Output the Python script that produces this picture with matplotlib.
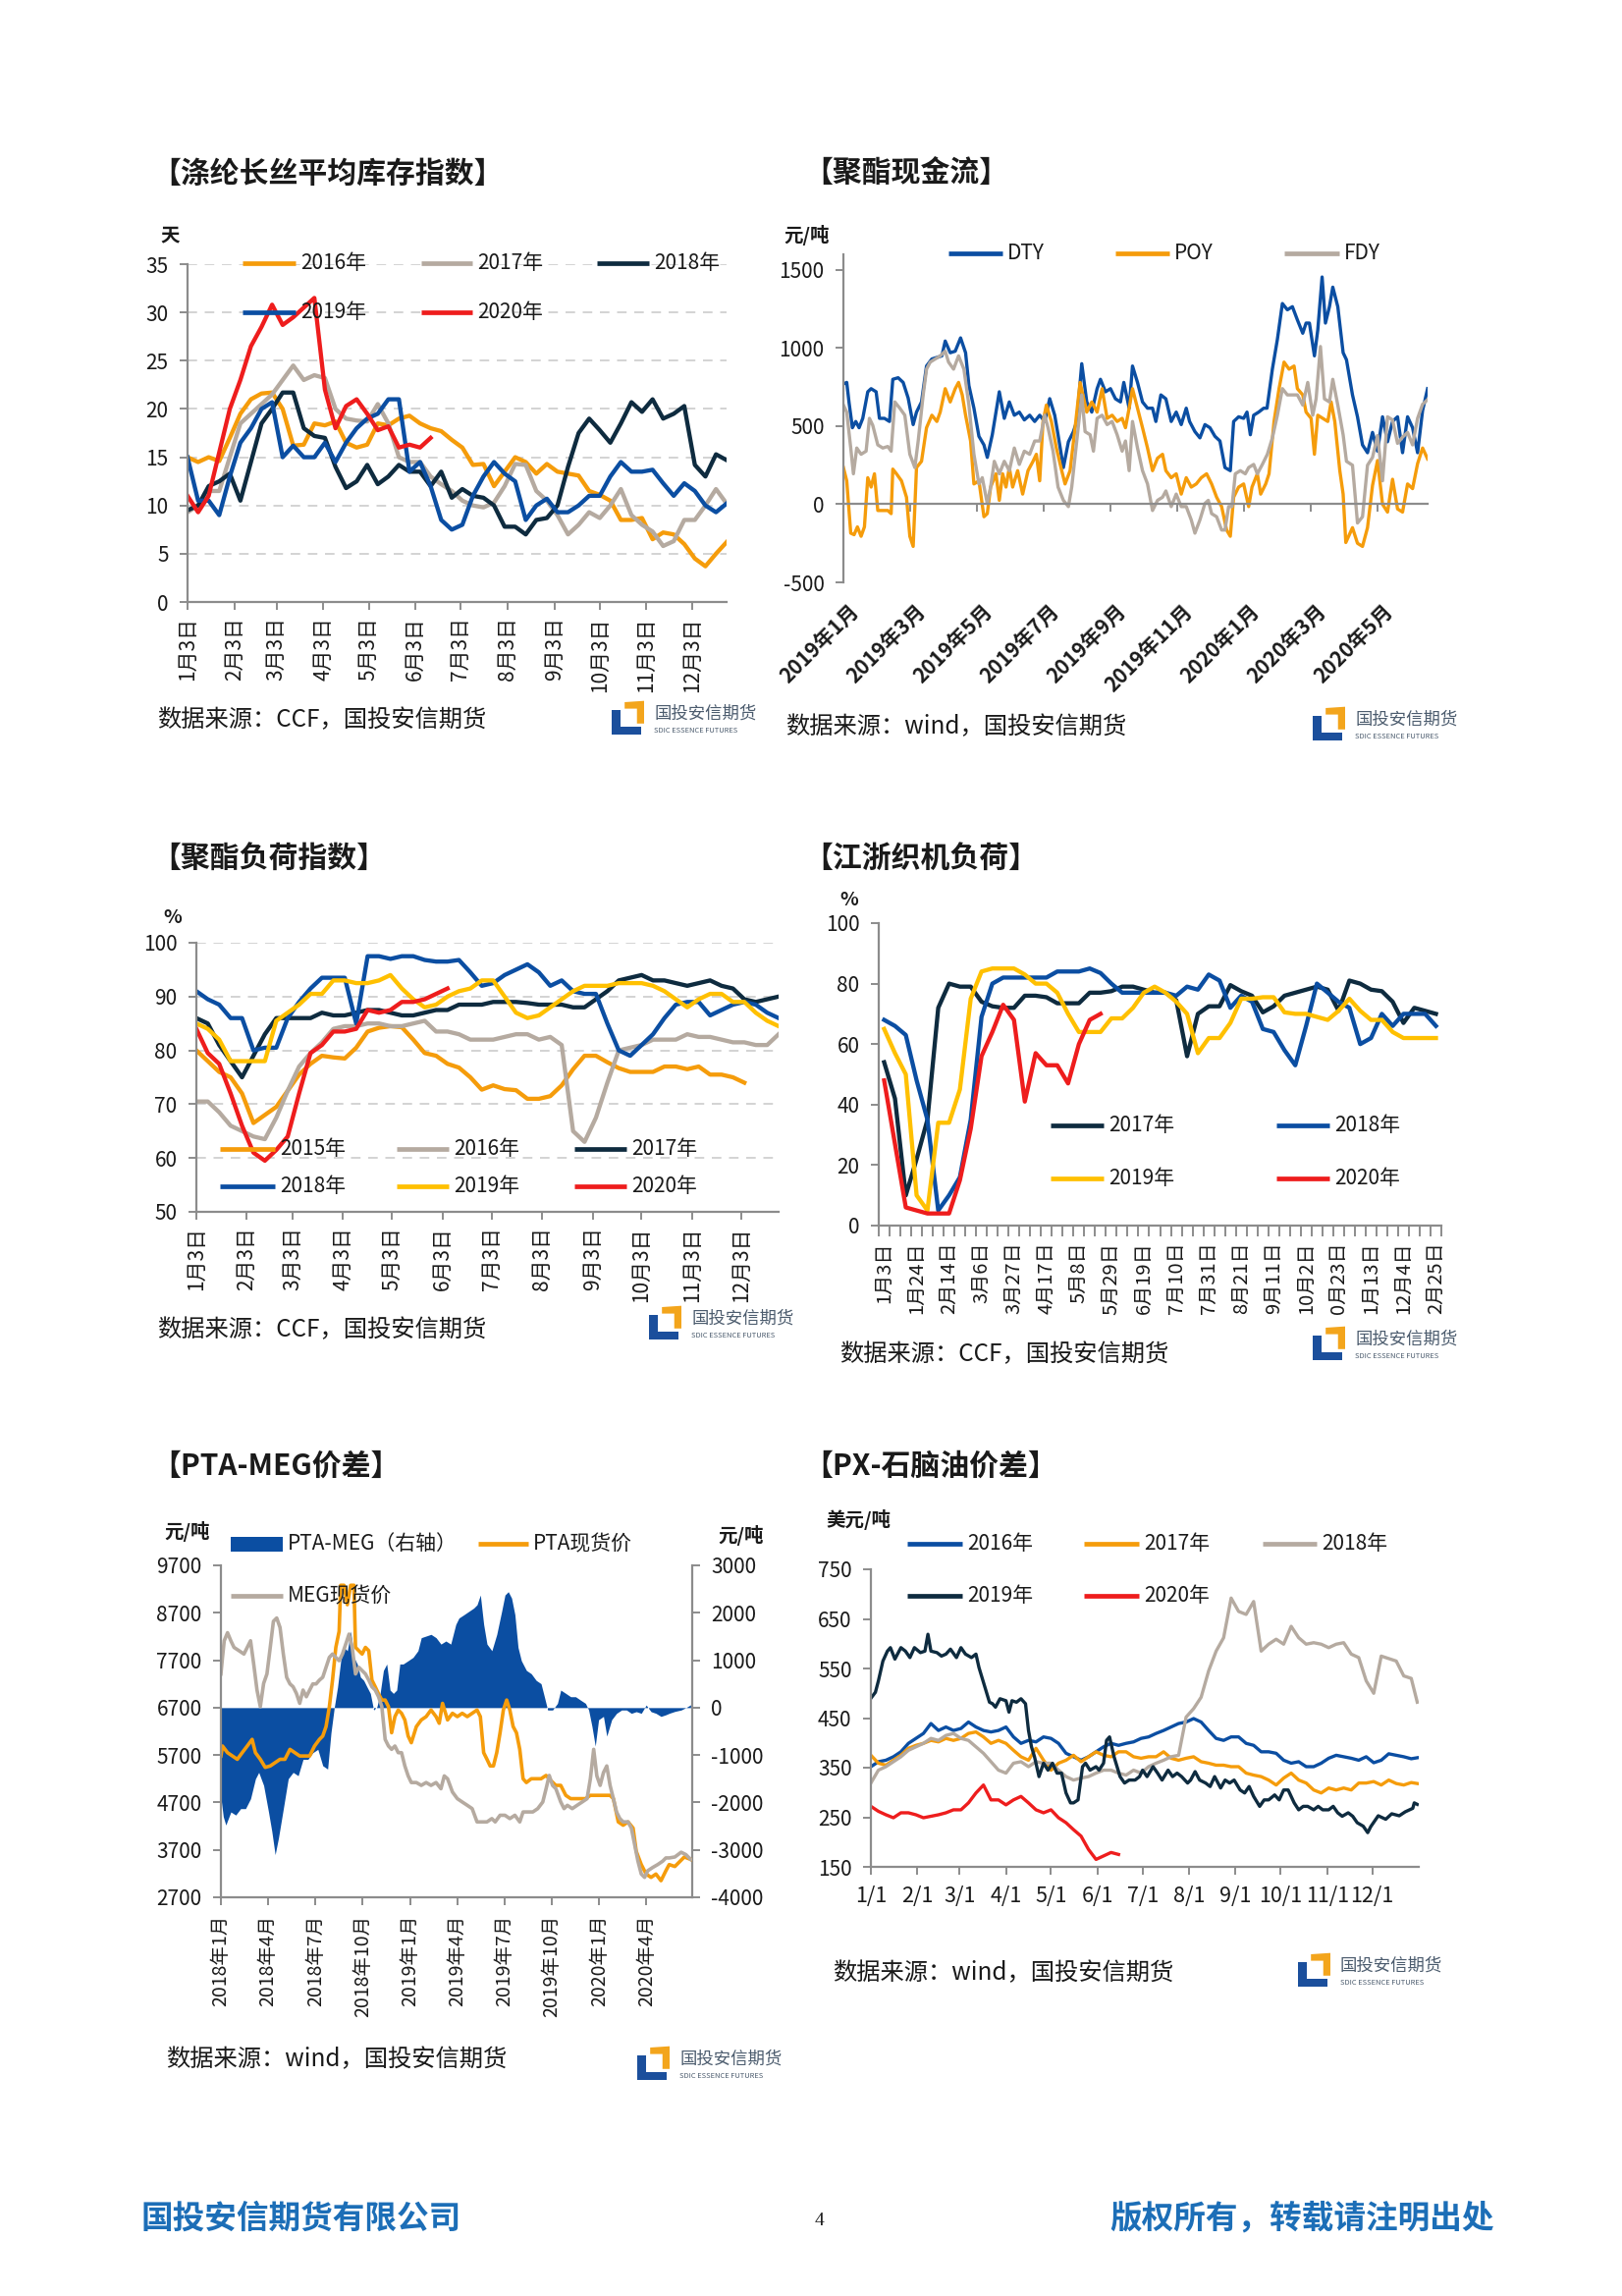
import datetime as dt
import numpy as np
import matplotlib
matplotlib.use('Agg')
import matplotlib.pyplot as plt
from matplotlib.lines import Line2D
from matplotlib.patches import Polygon, Rectangle
from matplotlib.transforms import blended_transform_factory

plt.rcParams['font.family'] = ['Noto Sans CJK SC', 'DejaVu Sans']
plt.rcParams['axes.unicode_minus'] = False

ORANGE = '#F59C0B'
GRAY = '#B5AAA0'
NAVY = '#0E2B3F'
BLUE = '#0B4EA2'
RED = '#EE1D1D'
YELLOW = '#FFC000'
AXC = '#8C8C8C'
TXT = '#1A1A1A'

# ---------------- chart 1: 涤纶长丝平均库存指数 (weekly, days) ----------------
inv_tick_labels = ['%d月3日' % m for m in range(1, 13)]
inv_2016 = [15, 14.5, 15, 14.6, 17, 19.5, 21, 21.6, 21.7, 20, 16.2, 16.3, 18.5, 18.3, 18.7, 16.5, 16, 16.3,
            18.5, 18.3, 19.0, 19.3, 18.5, 18, 17.7, 16.8, 16, 14.2, 14.3, 12, 13.5, 15, 14.5, 13.3, 14.3, 13.5,
            13.3, 13.1, 11.5, 11.1, 10.5, 8.5, 8.5, 8.7, 6.5, 7.2, 7, 6, 4.5, 3.7, 5, 6.2]
inv_2017 = [9.3, 10, 11.5, 11.5, 15, 18.5, 19.5, 20.5, 21.5, 23, 24.5, 23, 23.5, 23.2, 20, 19, 18.8, 18.7,
            20.5, 18.5, 15, 14.5, 14.5, 13, 12.2, 11.5, 10.5, 10, 9.8, 10.3, 12, 14.3, 14.2, 11.5, 10.5, 9,
            7, 8, 9.3, 8.7, 10, 11.7, 9, 8, 7.3, 5.8, 6.3, 8.5, 8.5, 10, 11.7, 10.2]
inv_2018 = [9.5, 10, 12, 12.5, 13.3, 10.5, 14.5, 18.5, 20, 21.7, 21.7, 18, 17.2, 17, 14, 11.8, 12.5, 14.2,
            12.2, 13, 14.2, 13.5, 13.5, 12, 13.5, 10.8, 11.7, 11, 10.8, 10, 7.8, 7.8, 7, 8.5, 8.7, 10, 14,
            17.5, 19, 17.8, 16.5, 18.5, 20.7, 19.7, 21, 19, 19.5, 20.3, 14.2, 13, 15.3, 14.7]
inv_2019 = [15, 10.5, 10.5, 9, 13, 16.5, 18, 20, 20.7, 15, 16.2, 15, 15, 16.5, 14.5, 16.5, 18, 19, 19.5,
            21, 21, 13.5, 14.5, 12, 8.5, 7.5, 8, 11, 13, 14.5, 13.3, 12.5, 8.5, 10, 10.7, 9.3, 9.3, 10, 11,
            11, 13, 14.5, 13.5, 13.5, 13.7, 12.3, 11, 12.3, 11.5, 10, 9.3, 10.2]
inv_2020 = [11, 9.3, 11, 15.5, 20, 23, 26.5, 28.5, 30.8, 28.7, 29.5, 30.5, 31.5, 22, 18, 20.3, 21, 19.5,
            17.8, 18.2, 16, 16.3, 16, 17]

# ---------------- chart 2: 聚酯现金流 (元/吨, months since 2019-01) ----------------
cf_tick_labels = ['2019年1月', '2019年3月', '2019年5月', '2019年7月', '2019年9月', '2019年11月',
                  '2020年1月', '2020年3月', '2020年5月']
dty_m = [0, 0.10, 0.17, 0.27, 0.37, 0.47, 0.58, 0.73, 0.83, 0.98, 1.08, 1.23, 1.38, 1.48, 1.64, 1.79, 1.94,
         2.09, 2.19, 2.34, 2.49, 2.65, 2.80, 2.95, 3.05, 3.20, 3.35, 3.51, 3.66, 3.76, 3.91, 4.06, 4.21, 4.31,
         4.46, 4.67, 4.82, 4.97, 5.12, 5.27, 5.42, 5.58, 5.73, 5.88, 6.03, 6.18, 6.33, 6.43, 6.59, 6.74, 6.89,
         6.99, 7.14, 7.29, 7.44, 7.60, 7.70, 7.85, 8.00, 8.15, 8.30, 8.40, 8.56, 8.66, 8.81, 8.96, 9.11, 9.26,
         9.36, 9.51, 9.66, 9.82, 9.97, 10.12, 10.27, 10.37, 10.53, 10.68, 10.83, 10.98, 11.13, 11.28, 11.43,
         11.59, 11.69, 11.84, 11.99, 12.09, 12.19, 12.29, 12.44, 12.59, 12.69, 12.85, 13.00, 13.15, 13.30,
         13.45, 13.60, 13.76, 13.86, 13.96, 14.11, 14.21, 14.34, 14.44, 14.56, 14.66, 14.81, 14.97, 15.07,
         15.25, 15.40, 15.55, 15.70, 15.85, 16.00, 16.15, 16.30, 16.45, 16.60, 16.75, 16.90, 17.05, 17.20,
         17.35, 17.50]
dty_v = [770, 780, 650, 490, 530, 490, 550, 720, 740, 720, 550, 550, 530, 800, 810, 780, 680, 510, 590, 655,
         885, 930, 940, 950, 1045, 970, 980, 1065, 970, 760, 615, 435, 380, 300, 445, 720, 550, 655, 570, 590,
         540, 570, 530, 570, 530, 676, 570, 445, 235, 400, 465, 530, 900, 655, 590, 740, 800, 720, 740, 675,
         655, 780, 615, 885, 780, 655, 615, 615, 530, 700, 675, 530, 590, 510, 615, 530, 465, 425, 510, 490,
         435, 405, 235, 215, 530, 560, 550, 590, 445, 570, 590, 615, 615, 865, 1055, 1285, 1245, 1265, 1180,
         1095, 1160, 1160, 950, 1115, 1455, 1160, 1265, 1390, 1265, 970, 925, 700, 560, 380, 330, 460, 340,
         560, 400, 530, 560, 330, 560, 490, 330, 600, 740]
poy_m = [0, 0.10, 0.22, 0.32, 0.42, 0.53, 0.63, 0.73, 0.83, 0.93, 1.03, 1.18, 1.33, 1.43, 1.48, 1.59, 1.74,
         1.89, 1.99, 2.09, 2.19, 2.34, 2.49, 2.65, 2.80, 2.90, 3.05, 3.20, 3.35, 3.45, 3.56, 3.66, 3.81, 3.91,
         4.06, 4.21, 4.31, 4.41, 4.57, 4.67, 4.77, 4.87, 4.97, 5.07, 5.22, 5.37, 5.53, 5.68, 5.78, 5.88, 5.98,
         6.08, 6.23, 6.38, 6.54, 6.64, 6.79, 6.94, 7.09,
         7.29, 7.44, 7.60, 7.75, 7.90, 8.05, 8.20, 8.35, 8.45, 8.56, 8.66, 8.81, 8.96, 9.11, 9.26, 9.41, 9.56,
         9.66, 9.82, 9.97, 10.12, 10.27, 10.42, 10.57, 10.72, 10.88, 11.03, 11.18, 11.33, 11.48, 11.59, 11.69,
         11.84, 11.99, 12.14, 12.24, 12.40, 12.50, 12.65, 12.75, 12.90, 13.05, 13.20, 13.35, 13.50, 13.60,
         13.76, 13.86, 14.01, 14.11, 14.21, 14.36, 14.51, 14.61, 14.72, 14.87, 14.97, 15.05,
         15.25, 15.40, 15.55, 15.70, 15.85, 16.00, 16.15, 16.30, 16.45, 16.60, 16.75, 16.90, 17.05, 17.20,
         17.35, 17.50]
poy_v = [235, 150, -185, -195, -145, -205, -145, 170, 110, 195, -40, -40, -40, -60, 225, 195, 150, 45, -205,
         -270, 235, 275, 490, 570, 530, 590, 740, 655, 740, 780, 700, 570, 405, 130, 150, -80, -60, 110, 195,
         25, 195, 110, 235, 110, 215, 65, 215, 275, 320, 150, 530, 635, 530, 360, 215, 130, 215, 490, 780,
         590, 655, 590, 740, 550, 570, 530, 550, 490, 615, 740, 615, 490, 360, 215, 295, 320, 215, 170, 195,
         65, 170, 110, 130, 170, 195, 130, 45, -15, -165, -205, 45, 110, 130, -15, 110, 195, 65, 130, 195,
         530, 740, 910, 865, 885, 740, 700, 590, 550, 320, 570, 550, 530, 655, 530, 215, 65, -245,
         -150, -250, -270, -150, 120, 280, 0, -50, 160, -30, -50, 130, 100, 260, 360, 290]
fdy_m = [0, 0.10, 0.22, 0.30, 0.40, 0.53, 0.68, 0.78, 0.88, 1.03, 1.18, 1.33, 1.43, 1.54, 1.69, 1.84, 1.99,
         2.14, 2.24, 2.39, 2.49, 2.60, 2.75, 2.90, 3.05, 3.15, 3.30, 3.45, 3.61, 3.76, 3.91, 4.06, 4.16, 4.31,
         4.41, 4.52, 4.67, 4.82, 4.97, 5.12, 5.27, 5.42, 5.58, 5.73, 5.88, 6.03, 6.13, 6.28, 6.43, 6.59, 6.74,
         6.84, 6.99, 7.14,
         7.24, 7.39, 7.49, 7.60, 7.75, 7.90, 8.05, 8.20, 8.35, 8.45, 8.56, 8.66, 8.81, 8.96, 9.11, 9.26, 9.41,
         9.56, 9.66, 9.82, 9.97, 10.12, 10.27, 10.42, 10.53, 10.68, 10.83, 10.93, 11.03, 11.18, 11.33, 11.43,
         11.54, 11.64, 11.74, 11.89, 12.04, 12.14, 12.29, 12.40, 12.55, 12.70, 12.85, 13.00, 13.15, 13.30,
         13.45, 13.60, 13.76, 13.91, 14.06, 14.16, 14.29, 14.41, 14.56, 14.66, 14.81, 14.97, 15.07,
         15.25, 15.40, 15.55, 15.70, 15.85, 16.00, 16.15, 16.30, 16.45, 16.60, 16.75, 16.90, 17.05, 17.20,
         17.35, 17.50]
fdy_v = [635, 590, 360, 195, 360, 320, 340, 550, 505, 380, 360, 370, 340, 655, 615, 570, 320, 235, 405, 700,
         865, 910, 930, 950, 980, 910, 865, 950, 865, 635, 320, 130, 170, 5, 110, 275, 195, 275, 215, 360,
         255, 340, 320, 405, 405, 570, 490, 340, 110, 25, -15, 110, 405, 700,
         465, 445, 340, 550, 570, 510, 530, 445, 340, 405, 215, 530, 360, 215, 130, -40, 25, 45, 85, -15,
         65, -15, -15, -100, -185, -100, 5, 25, -60, -80, -165, -165, -15, -15, 195, 215, 195, 235, 255, 195,
         255, 320, 425, 570, 740, 700, 700, 700, 635, 780, 570, 675, 1010, 675, 655, 800, 635, 445, 275,
         250, -120, -80, 250, 300, 440, 150, 560, 540, 390, 430, 460, 380, 550, 640, 670]

# ---------------- chart 3: 聚酯负荷指数 (weekly, %) ----------------
load_2015 = [80, 78, 76, 75, 72, 66.5, 68, 69.5, 72.5, 75.5, 77.5, 79, 78.7, 78.5, 80.5, 83.5, 84.2, 84.5,
             84.3, 82, 79.5, 79, 77.5, 76.8, 75, 72.7, 73.5, 72.8, 72.6, 71, 71, 71.5, 73.5, 76.5, 79, 79,
             77.8, 76.7, 76, 76, 76, 77, 77, 76.5, 77, 75.5, 75.5, 75, 74]
load_2016 = [70.5, 70.5, 68.5, 66, 65, 64, 63.5, 67.5, 72.5, 77, 79.5, 81.5, 84, 84.5, 84.5, 85, 85, 84.5,
             84.5, 85, 85.5, 83.5, 83.5, 83, 82, 82, 82, 82.5, 83, 83, 82, 82.5, 81, 65, 63, 67.5, 74, 80,
             80.5, 81, 82, 82, 82, 83, 82.5, 82.5, 82, 81.5, 81.5, 81, 81, 83]
load_2017 = [86, 85, 81, 78, 75, 79, 83, 86, 86, 86, 86, 87, 86.5, 86.5, 87, 87.5, 87.5, 87, 86.5, 86.5, 87,
             87.5, 87.5, 88.5, 88.5, 88.5, 89, 89, 89, 88.8, 88.5, 88.5, 88.5, 88, 88, 89.5, 91, 93, 93.5, 94,
             93, 93, 92.5, 92, 92.5, 93, 92, 91.5, 89.5, 89, 89.5, 90]
load_2018 = [91, 89.5, 88.5, 86, 86, 80, 80.5, 80.5, 86, 89, 91.5, 93.5, 93.5, 93.5, 85, 97.5, 97.5, 97, 97.5,
             97.5, 96.8, 96.5, 96.5, 96.8, 94.5, 92, 92.5, 94, 95, 96, 94.5, 92, 93, 91, 90.5, 90.5, 85, 80,
             79, 81, 83, 86, 88.5, 89, 89, 86.5, 87.5, 88.5, 89, 88.5, 87, 86]
load_2019 = [85, 84, 82, 78, 78, 78, 78, 85.5, 87, 88.5, 90.5, 90.5, 93, 93, 92.5, 92.5, 93, 94, 91.5, 89.5,
             88, 88.5, 90, 91, 91.5, 93, 93, 90, 87, 86, 86.5, 88, 89.5, 91, 92, 92, 92, 92.5, 92.5, 92.5, 92,
             91, 89.5, 88, 89.5, 90.5, 90.5, 89, 89, 87, 85.5, 84.5]
load_2020 = [84, 79.5, 77.5, 72, 66, 61, 59.5, 61.5, 64, 72, 79.5, 81, 83.5, 83.5, 84, 87.5, 87, 87.5, 89,
             89, 89.5, 90.5, 91.5]

# ---------------- chart 4: 江浙织机负荷 (weekly categories, %) ----------------
loom_labels = ['1月3日', '1月24日', '2月14日', '3月6日', '3月27日', '4月17日', '5月8日', '5月29日',
               '6月19日', '7月10日', '7月31日', '8月21日', '9月11日', '10月2日', '0月23日', '1月13日',
               '12月4日', '2月25日']
loom_2017 = [54, 42, 10, 22, 35, 72, 80, 79, 79, 74, 72.5, 72, 72, 76, 76, 75.5, 73.5, 73.5, 73.5, 77, 77,
             77.5, 79, 79, 78, 77, 77, 74.5, 56, 70, 72.5, 72.5, 79.5, 77.5, 76, 70.5, 72.5, 76, 77, 78, 79,
             78, 71, 81, 80, 78, 77.5, 74, 67, 72, 71, 70]
loom_2018 = [68, 66, 63, 48, 35, 5, 10, 16, 35, 69, 80, 82, 82, 82, 82, 82, 84, 84, 84, 85, 83.5, 80, 77, 77,
             77, 77, 77, 76, 79, 78, 83, 81, 72, 76, 74, 65, 64, 58, 53, 66, 80, 77, 74, 72, 60, 62, 70, 66,
             70, 70, 70, 66]
loom_2019 = [65, 57, 50, 10, 5, 34, 34, 45, 75, 84, 85, 85, 85, 83, 80, 80, 77, 70, 64, 64, 64, 68.5, 68.5,
             72, 77, 79, 77, 74, 70, 57, 62, 62, 67, 75, 75, 75.5, 75.5, 70.5, 70, 70, 69, 68, 71, 75, 71, 68,
             68, 64, 62, 62, 62, 62]
loom_2020 = [48, 27, 6, 5, 4, 4, 4, 15, 32, 56, 64, 73, 68, 41, 57, 53, 53, 47, 60, 68, 70]

# ---------------- chart 5: PTA-MEG价差 (months since 2018-01) ----------------
pm_tick_labels = ['2018年1月', '2018年4月', '2018年7月', '2018年10月', '2019年1月', '2019年4月',
                  '2019年7月', '2019年10月', '2020年1月', '2020年4月']
spread_m = [0, 0.15, 0.31, 0.63, 0.94, 1.25, 1.56, 1.88, 2.19, 2.40, 2.71, 3.02, 3.23, 3.44, 3.65, 3.96,
            4.27, 4.58, 4.90, 5.21, 5.52, 5.83, 6.15, 6.46, 6.77, 6.98, 7.19, 7.40, 7.60, 7.81, 8.02, 8.23,
            8.44, 8.65, 8.85, 9.06, 9.27, 9.48, 9.69, 9.90, 10.10, 10.31, 10.52, 10.73, 10.94, 11.15, 11.35,
            11.56, 11.88, 12.19, 12.50, 12.71, 13.02, 13.33, 13.65, 13.96, 14.27, 14.58, 14.90, 15.10, 15.42,
            15.73, 16.04, 16.25, 16.46, 16.67, 16.88, 17.19, 17.50, 17.81, 18.02, 18.23, 18.44, 18.65, 18.85,
            19.06, 19.38, 19.69, 20.00, 20.31, 20.52, 20.73, 21.04, 21.35, 21.56, 21.88, 22.19, 22.50, 22.81,
            23.13, 23.33, 23.54, 23.75, 23.96, 24.27, 24.48, 24.79, 25.10, 25.42, 25.73, 26.04, 26.35, 26.67,
            26.98, 27.29, 27.60, 27.92, 28.23, 28.44, 28.8, 29.2, 29.5, 29.8]
spread_v = [-1900, -2300, -2475, -2200, -2265, -2130, -2130, -1920, -1500, -1365, -1640, -2200, -2610, -3100,
            -2750, -2130, -1500, -1365, -1435, -1090, -1090, -950, -880, -1225, -1295, -535, 0, 435, 990,
            1270, 1200, 1615, 1060, 920, 645, 575, 435, 300, -50, 20, 300, 785, 920, 370, 300, 370, 920, 920,
            990, 1060, 1200, 1475, 1510, 1545, 1475, 1340, 1405, 1340, 1755, 1890, 1960, 2030, 2100, 2170,
            2375, 1755, 1340, 1200, 1545, 2030, 2375, 2445, 2310, 1960, 1270, 990, 785, 715, 575, 505, 230,
            -50, -50, 90, 370, 300, 230, 230, 160, 90, -50, -395, -810, -255, -185, -600, -255, -120, -50,
            -50, -120, -85, -120, 55, -85, -120, -185, -150, -120, -80, -50, 0, 60]
pta_m = [0, 0.10, 0.42, 0.73, 1.04, 1.35, 1.67, 1.98, 2.19, 2.50, 2.81, 3.13, 3.44, 3.75, 4.06, 4.38, 4.69,
         5.00, 5.31, 5.63, 5.94, 6.25, 6.46, 6.67, 6.88, 7.08, 7.29, 7.50, 7.60, 7.81, 8.02, 8.23, 8.44, 8.54,
         8.75, 8.96, 9.17, 9.38, 9.58, 9.79, 10.00, 10.21, 10.42, 10.63, 10.83, 11.04, 11.25, 11.46, 11.67,
         11.88, 12.08, 12.40, 12.71, 13.02, 13.33, 13.65, 13.85, 14.06, 14.38, 14.69, 15.00, 15.31, 15.63,
         15.94, 16.25, 16.46, 16.67, 16.88, 17.08, 17.29, 17.50, 17.71, 17.92, 18.13, 18.33, 18.54, 18.75,
         18.96, 19.17, 19.38, 19.69, 20.00, 20.31, 20.63, 20.94, 21.25, 21.56, 21.88, 22.19, 22.50, 22.81,
         23.13, 23.44, 23.75, 24.06, 24.38, 24.69, 24.90, 25.21, 25.52, 25.83, 26.15, 26.35, 26.67, 26.98,
         27.29, 27.60, 27.92, 28.23, 28.44, 28.8, 29.1, 29.4, 29.8]
pta_v = [5680, 5890, 5750, 5680, 5610, 5750, 5890, 6030, 5750, 5610, 5440, 5470, 5540, 5610, 5610, 5820, 5750,
         5680, 5680, 5680, 5890, 6030, 6100, 6300, 6720, 7280, 7970, 8310, 9280, 9280, 8870, 9280, 9280, 7970,
         7900, 7830, 7970, 7900, 7280, 7140, 6990, 6860, 6860, 6720, 6170, 6510, 6650, 6580, 6440, 6100, 5960,
         6300, 6440, 6510, 6650, 6510, 6370, 6790, 6440, 6580, 6510, 6580, 6510, 6580, 6650, 6510, 5750, 5610,
         5470, 5470, 5750, 6170, 6650, 6860, 6650, 6300, 6170, 5820, 5200, 5120, 5200, 5200, 5200, 5270, 5160,
         5060, 5060, 4850, 4780, 4780, 4780, 4780, 4850, 4850, 4850, 4850, 4850, 4780, 4290, 4220, 4290, 4160,
         3670, 3390, 3190, 3120, 3190, 3050, 3260, 3390, 3350, 3450, 3550, 3500]
meg_m = [0.0, 0.10, 0.21, 0.42, 0.63, 0.83, 1.15, 1.46, 1.67, 1.88, 2.08, 2.29, 2.50, 2.71, 2.92, 3.13, 3.33,
         3.54, 3.75, 3.96, 4.17, 4.38, 4.58, 4.79, 5.00, 5.21, 5.42, 5.63, 5.83, 6.04, 6.25, 6.46, 6.67, 6.88,
         7.08, 7.29, 7.50, 7.71, 7.92, 8.13, 8.33, 8.54, 8.75, 8.96, 9.17, 9.38, 9.58, 9.79, 10.00, 10.21,
         10.42, 10.63, 10.83, 11.04, 11.25, 11.46, 11.67, 11.88, 12.08, 12.40, 12.71, 13.02, 13.33, 13.65,
         13.96, 14.17, 14.38, 14.69, 15.00, 15.31, 15.63, 15.94, 16.25, 16.56, 16.88, 17.19, 17.40, 17.71,
         18.02, 18.33, 18.65, 18.96, 19.17, 19.48, 19.79, 20.10, 20.42, 20.63, 20.83, 21.04, 21.25, 21.56,
         21.77, 21.98, 22.29, 22.60, 22.92, 23.23, 23.44, 23.65, 23.85, 24.06, 24.27, 24.48, 24.69, 24.90,
         25.10, 25.31, 25.52, 25.83, 26.04, 26.25, 26.46, 26.67, 26.88, 27.08, 27.40, 27.71, 28.02, 28.23,
         28.44, 28.8, 29.2, 29.5, 29.8]
meg_v = [7410, 7760, 8110, 8280, 8110, 7970, 7900, 7830, 7970, 8110, 7620, 7070, 6720, 7210, 7410, 7970, 8520,
         8590, 8390, 7830, 7340, 7200, 7140, 7000, 6790, 7070, 6930, 7070, 7200, 7200, 7280, 7340, 7550, 7760,
         7830, 7760, 7690, 7830, 8040, 8250, 7970, 7410, 7550, 7480, 7410, 7280, 7140, 7070, 6930, 6720, 6030,
         5890, 5820, 5890, 5750, 5750, 5470, 5260, 5120, 5120, 5060, 5120, 5060, 5120, 4990, 5260, 5200, 4920,
         4780, 4710, 4640, 4570, 4290, 4290, 4290, 4360, 4290, 4430, 4430, 4360, 4430, 4290, 4500, 4500, 4500,
         4570, 4710, 4990, 5270, 5060, 4990, 4710, 4570, 4640, 4570, 4640, 4710, 4780, 5200, 5820, 5260, 5060,
         5330, 5470, 5060, 4780, 4500, 4360, 4290, 4290, 4160, 3810, 3460, 3190, 3120, 3260, 3330, 3390, 3460,
         3530, 3530, 3550, 3650, 3600, 3500]

# ---------------- chart 6: PX-石脑油价差 (美元/吨, day of year) ----------------
px_days = list(range(0, 365, 5)) + [364]
px_2016 = [352, 362, 365, 372, 382, 399, 409, 419, 439, 425, 432, 425, 429, 442, 432, 425, 422, 425, 432, 412,
           399, 405, 402, 412, 409, 399, 379, 372, 365, 372, 382, 392, 399, 395, 399, 402, 409, 412, 419, 425,
           432, 439, 442, 449, 442, 425, 409, 405, 412, 412, 399, 395, 382, 382, 379, 365, 359, 362, 352, 352,
           359, 369, 375, 372, 369, 365, 372, 360, 365, 378, 375, 372, 368, 370]
px_2017 = [375, 359, 355, 365, 375, 389, 395, 399, 405, 402, 409, 405, 409, 419, 422, 412, 399, 405, 399, 385,
           372, 365, 389, 365, 345, 359, 365, 375, 362, 372, 382, 375, 372, 382, 382, 372, 369, 372, 372, 382,
           369, 365, 369, 372, 362, 359, 355, 355, 352, 352, 339, 335, 332, 325, 315, 329, 339, 325, 319, 305,
           299, 309, 305, 309, 305, 319, 319, 322, 315, 325, 318, 315, 320, 318]
px_2018 = [319, 345, 352, 362, 372, 385, 392, 399, 409, 405, 415, 419, 409, 405, 392, 379, 362, 345, 339, 359,
           362, 352, 362, 359, 359, 345, 332, 325, 329, 332, 339, 345, 345, 339, 335, 345, 339, 352, 359, 365,
           372, 375, 452, 469, 492, 545, 585, 612, 692, 665, 659, 685, 585, 599, 609, 599, 635, 612, 599, 602,
           599, 592, 599, 602, 579, 572, 525, 500, 575, 570, 565, 535, 530, 482]
px_2019_days = [0, 3, 5, 8, 11, 13, 16, 20, 23, 26, 29, 33, 36, 38, 40, 44, 47, 50, 53, 57, 60, 63, 67, 70, 72,
                74, 76, 79, 81, 83, 86, 90, 92, 94, 97, 100, 103, 105, 107, 109, 112, 115, 118, 121, 124, 127,
                130, 133, 135, 138, 141, 143, 146, 150, 152, 155, 157, 159, 162, 164, 166, 169, 172, 176, 179,
                181, 184, 188, 191, 194, 198, 201, 204, 207, 211, 213, 216, 219, 223, 226, 229, 233, 236, 239,
                242, 246, 249, 252, 255, 259, 262, 265, 269, 272, 275, 278, 282, 285, 288, 291, 295, 298, 301,
                305, 308, 311, 314, 318, 321, 324, 328, 331, 333, 338, 343, 347, 352, 356, 361, 362, 364]
px_2019 = [490, 502, 525, 565, 585, 592, 569, 592, 585, 572, 592, 582, 585, 619, 585, 582, 575, 579, 589, 572,
           592, 579, 572, 579, 552, 532, 512, 482, 479, 472, 489, 485, 462, 485, 482, 489, 479, 425, 392, 372,
           332, 359, 345, 359, 339, 339, 299, 279, 279, 285, 352, 359, 345, 352, 345, 359, 405, 412, 372, 352,
           332, 319, 325, 325, 332, 345, 332, 352, 339, 325, 345, 332, 339, 332, 319, 325, 342, 325, 319, 312,
           332, 309, 325, 319, 325, 305, 299, 312, 292, 272, 285, 285, 295, 285, 305, 305, 279, 265, 272, 272,
           265, 272, 265, 265, 272, 259, 252, 259, 252, 239, 232, 219, 231, 253, 246, 257, 253, 261, 268, 279,
           276]
px_2020 = [272, 262, 255, 249, 259, 259, 255, 249, 252, 255, 259, 265, 265, 279, 299, 315, 285, 285, 275, 285,
           292, 279, 265, 259, 265, 249, 239, 225, 212, 185, 165, 172, 179, 175]

# ---------------- page helpers (pixel coordinates, origin top-left) ----------------
W, H = 1652, 2338
fig = plt.figure(figsize=(W / 100, H / 100), dpi=100)
fig.patch.set_facecolor('white')


def P(x, y):
    return (x / W, 1 - y / H)


def make_axes(l, t, r, b):
    return fig.add_axes([l / W, 1 - b / H, (r - l) / W, (b - t) / H])


def ftext(x, y, s, **kw):
    kw.setdefault('color', TXT)
    kw.setdefault('va', 'center')
    fig.text(x / W, 1 - y / H, s, **kw)


def fline(x0, x1, y, color, lw=3.4):
    fig.add_artist(Line2D([x0 / W, x1 / W], [1 - y / H] * 2, color=color, lw=lw,
                          transform=fig.transFigure, solid_capstyle='butt'))


def legend_row(y, items, size=15):
    for x0, x1, lab, col in items:
        fline(x0, x1, y, col)
        ftext(x1 + 5, y, lab, fontsize=size)


def style(ax, grid=False, size=15):
    for s in ['top', 'right']:
        ax.spines[s].set_visible(False)
    for s in ['left', 'bottom']:
        ax.spines[s].set_color(AXC)
        ax.spines[s].set_linewidth(1.6)
    ax.tick_params(colors=AXC, labelcolor=TXT, labelsize=size, length=6, width=1.4, direction='out')
    ax.tick_params(axis='y', pad=8)
    if grid:
        ax.yaxis.grid(True, color='#D3D3D3', ls=(0, (5, 4)), lw=1.4)
        ax.set_axisbelow(True)


def logo(x, y):
    s = 33

    def poly(pts, col):
        fig.add_artist(Polygon([P(x + a * s, y + b * s) for a, b in pts], closed=True, facecolor=col,
                               edgecolor='none', transform=fig.transFigure))
    poly([(0, 0.24), (0.28, 0.24), (0.28, 0.76), (0.92, 0.76), (0.92, 1.0), (0, 1.0)], '#1B4F9C')
    poly([(0.40, 0), (1.0, -0.04), (1.0, 0.66), (0.78, 0.66), (0.78, 0.2), (0.40, 0.2)], '#F3A51C')
    ftext(x + 43, y + 12, '国投安信期货', fontsize=12.5, color='#4C5C6E')
    ftext(x + 43, y + 29, 'SDIC ESSENCE FUTURES', fontsize=5.4, color='#4C5C6E')


def title(x, y, s):
    ftext(x, y, s, fontsize=21.5, fontweight='bold')


SRC = 17.5
LW = 3.1

# ================= chart 1 =================
title(154, 177, '【涤纶长丝平均库存指数】')
ftext(173, 240, '天', fontsize=14, fontweight='bold', ha='center')
ax1 = make_axes(191, 269, 740, 613)
style(ax1, grid=True)
w52 = np.arange(52)
ax1.plot(w52, inv_2016, color=ORANGE, lw=LW)
ax1.plot(w52, inv_2017, color=GRAY, lw=LW)
ax1.plot(w52, inv_2018, color=NAVY, lw=LW)
ax1.plot(w52, inv_2019, color=BLUE, lw=LW)
ax1.plot(w52[:len(inv_2020)], inv_2020, color=RED, lw=LW)
ax1.set_xlim(0, 51)
ax1.set_ylim(0, 35)
ax1.set_yticks(range(0, 36, 5))
base = dt.date(2019, 1, 3)
ax1.set_xticks([(dt.date(2019, m, 3) - base).days / 7 for m in range(1, 13)])
ax1.set_xticklabels(inv_tick_labels, rotation=90)
ax1.tick_params(axis='x', pad=5)
legend_row(268, [(247, 301, '2016年', ORANGE), (429, 481, '2017年', GRAY), (608, 661, '2018年', NAVY)])
legend_row(318, [(247, 301, '2019年', BLUE), (429, 481, '2020年', RED)])
ftext(160, 733, '数据来源：CCF，国投安信期货', fontsize=SRC)
logo(623, 715)

# ================= chart 2 =================
title(818, 177, '【聚酯现金流】')
ftext(822, 240, '元/吨', fontsize=14, fontweight='bold', ha='center')
ax2 = make_axes(859, 259, 1454, 593)
style(ax2)
ax2.plot(dty_m, dty_v, color=BLUE, lw=2.4)
ax2.plot(poy_m, poy_v, color=ORANGE, lw=2.4)
ax2.plot(fdy_m, fdy_v, color=GRAY, lw=2.4)
ax2.set_xlim(0, 17.5)
ax2.set_ylim(-500, 1600)
ax2.set_yticks(range(-500, 1501, 500))
ax2.spines['bottom'].set_position(('data', 0))
cf_ticks = list(range(0, 17, 2))
ax2.set_xticks(cf_ticks)
ax2.tick_params(axis='x', labelbottom=False, length=6)
tr2 = blended_transform_factory(ax2.transData, ax2.transAxes)
for m, lab in zip(cf_ticks, cf_tick_labels):
    ax2.text(m + 0.15, -0.055, lab, transform=tr2, rotation=45, rotation_mode='anchor', ha='right',
             va='top', fontsize=15, fontweight='bold', color=TXT)
legend_row(258, [(966, 1021, 'DTY', BLUE), (1136, 1191, 'POY', ORANGE), (1308, 1364, 'FDY', GRAY)])
ftext(800, 740, '数据来源：wind，国投安信期货', fontsize=SRC)
logo(1337, 721)

# ================= chart 3 =================
title(154, 874, '【聚酯负荷指数】')
ftext(176, 934, '%', fontsize=14, fontweight='bold', ha='center')
ax3 = make_axes(200, 960, 793, 1234)
style(ax3, grid=True)
ax3.plot(w52[:len(load_2015)], load_2015, color=ORANGE, lw=LW)
ax3.plot(w52, load_2016, color=GRAY, lw=LW)
ax3.plot(w52, load_2017, color=NAVY, lw=LW)
ax3.plot(w52, load_2018, color=BLUE, lw=LW)
ax3.plot(w52, load_2019, color=YELLOW, lw=LW)
ax3.plot(w52[:len(load_2020)], load_2020, color=RED, lw=LW)
ax3.set_xlim(0, 51)
ax3.set_ylim(50, 100)
ax3.set_yticks(range(50, 101, 10))
ax3.set_xticks([(dt.date(2019, m, 3) - base).days / 7 for m in range(1, 13)])
ax3.set_xticklabels(inv_tick_labels, rotation=90)
ax3.tick_params(axis='x', pad=5)
legend_row(1170, [(224, 280, '2015年', ORANGE), (404, 457, '2016年', GRAY), (585, 638, '2017年', NAVY)])
legend_row(1208, [(224, 280, '2018年', BLUE), (404, 457, '2019年', YELLOW), (585, 638, '2020年', RED)])
ftext(160, 1354, '数据来源：CCF，国投安信期货', fontsize=SRC)
logo(661, 1331)

# ================= chart 4 =================
title(818, 874, '【江浙织机负荷】')
ftext(865, 917, '%', fontsize=14, fontweight='bold', ha='center')
ax4 = make_axes(895, 940, 1468, 1248)
style(ax4)
ax4.plot(w52, loom_2017, color=NAVY, lw=LW)
ax4.plot(w52, loom_2018, color=BLUE, lw=LW)
ax4.plot(w52, loom_2019, color=YELLOW, lw=LW)
ax4.plot(w52[:len(loom_2020)], loom_2020, color=RED, lw=LW)
ax4.set_xlim(-0.5, 51.5)
ax4.set_ylim(0, 100)
ax4.set_yticks(range(0, 101, 20))
ax4.set_xticks(np.arange(-0.5, 52, 1))
ax4.set_xticklabels([])
ax4.set_xticks(np.arange(0, 52, 3), minor=True)
ax4.set_xticklabels(loom_labels, minor=True, rotation=90)
ax4.tick_params(axis='x', which='major', length=8)
ax4.tick_params(axis='x', which='minor', length=0, labelsize=14.5, pad=12, labelcolor=TXT)
legend_row(1146, [(1070, 1124, '2017年', NAVY), (1300, 1354, '2018年', BLUE)])
legend_row(1200, [(1070, 1124, '2019年', YELLOW), (1300, 1354, '2020年', RED)])
ftext(855, 1379, '数据来源：CCF，国投安信期货', fontsize=SRC)
logo(1337, 1352)

# ================= chart 5 =================
title(154, 1493, '【PTA-MEG价差】')
ftext(191, 1560, '元/吨', fontsize=14, fontweight='bold', ha='center')
ftext(755, 1564, '元/吨', fontsize=14, fontweight='bold', ha='center')
ax5 = make_axes(225, 1594, 705, 1932)
ax5b = ax5.twinx()
style(ax5)
ax5b.fill_between(spread_m, 0, spread_v, color=BLUE, lw=0)
ax5b.set_ylim(-4000, 3000)
ax5b.set_yticks(range(-4000, 3001, 1000))
for s in ['top', 'left', 'bottom']:
    ax5b.spines[s].set_visible(False)
ax5b.spines['right'].set_color(AXC)
ax5b.spines['right'].set_linewidth(1.6)
ax5b.tick_params(colors=AXC, labelcolor=TXT, labelsize=15, length=6, width=1.4, pad=8)
ax5.set_zorder(ax5b.get_zorder() + 1)
ax5.patch.set_visible(False)
ax5.plot(pta_m, pta_v, color=ORANGE, lw=2.6)
ax5.plot(meg_m, meg_v, color=GRAY, lw=2.6)
ax5.set_xlim(0, 29.9)
ax5.set_ylim(2700, 9700)
ax5.set_yticks(range(2700, 9701, 1000))
ax5.set_xticks(range(0, 28, 3))
ax5.set_xticklabels(pm_tick_labels, rotation=90)
ax5.tick_params(axis='x', labelsize=14, pad=7)
fig.add_artist(Rectangle(P(235, 1580), 53 / W, 15 / H, facecolor=BLUE, edgecolor='none',
                         transform=fig.transFigure))
ftext(293, 1572, 'PTA-MEG（右轴）', fontsize=15)
legend_row(1572, [(487, 538, 'PTA现货价', ORANGE)])
legend_row(1625, [(235, 288, 'MEG现货价', GRAY)])
ftext(169, 2097, '数据来源：wind，国投安信期货', fontsize=SRC)
logo(649, 2085)

# ================= chart 6 =================
title(818, 1493, '【PX-石脑油价差】')
ftext(874, 1548, '美元/吨', fontsize=14, fontweight='bold', ha='center')
ax6 = make_axes(887, 1598, 1445, 1901)
style(ax6)
ax6.plot(px_days, px_2016, color=BLUE, lw=2.4)
ax6.plot(px_days, px_2017, color=ORANGE, lw=2.4)
ax6.plot(px_days, px_2018, color=GRAY, lw=2.4)
ax6.plot(px_2019_days, px_2019, color=NAVY, lw=2.4)
ax6.plot(px_days[:len(px_2020)], px_2020, color=RED, lw=2.4)
ax6.set_xlim(0, 365)
ax6.set_ylim(150, 750)
ax6.set_yticks(range(150, 751, 100))
jan1 = dt.date(2019, 1, 1)
ax6.set_xticks([(dt.date(2019, m, 1) - jan1).days for m in range(1, 13)])
ax6.set_xticklabels(['%d/1' % m for m in range(1, 13)])
ax6.tick_params(axis='x', pad=8, labelsize=15.5)
legend_row(1572, [(924, 980, '2016年', BLUE), (1104, 1160, '2017年', ORANGE), (1286, 1341, '2018年', GRAY)])
legend_row(1625, [(924, 980, '2019年', NAVY), (1104, 1160, '2020年', RED)])
ftext(848, 2009, '数据来源：wind，国投安信期货', fontsize=SRC)
logo(1322, 1990)

# ================= footer =================
ftext(143, 2259, '国投安信期货有限公司', fontsize=23.5, fontweight='bold', color='#1C6EB7')
ftext(834, 2261, '4', fontsize=14, ha='center', family='Liberation Serif')
ftext(1522, 2259, '版权所有，转载请注明出处', fontsize=23.5, fontweight='bold', color='#1C6EB7', ha='right')

fig.savefig('out.png', dpi=100, facecolor='white')
